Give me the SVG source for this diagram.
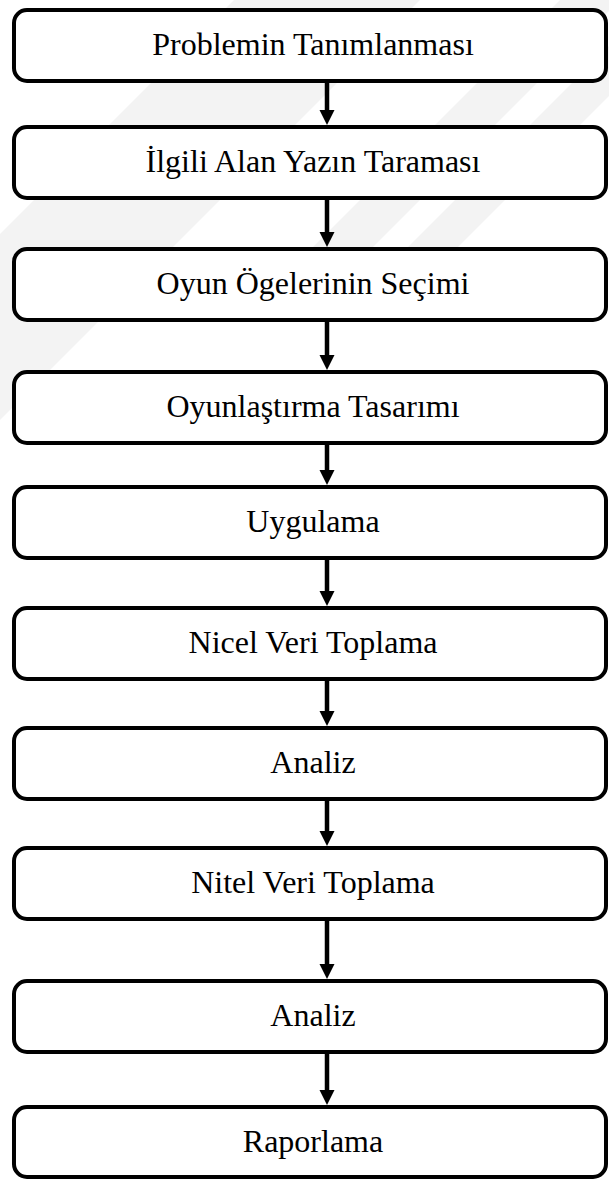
<svg xmlns="http://www.w3.org/2000/svg" width="609" height="1181" viewBox="0 0 609 1181">
<style>
.box{fill:#ffffff;stroke:#000000;stroke-width:4}
.lbl{font-family:"Liberation Serif","Times New Roman",serif;font-size:32px;fill:#000000;text-anchor:middle}
.wm{fill:#f3f3f3}
.shaft{stroke:#000000;stroke-width:4.5;fill:none}
.head{fill:#000000}
</style>
<rect width="609" height="1181" fill="#ffffff"/>
<g id="watermark">
<polygon class="wm" points="234,0 420,0 0,420 0,234"/>
<polygon class="wm" points="560,0 620,0 370,250 310,250"/>
<polygon class="wm" points="655,0 705,0 455,250 405,250"/>
</g>
<g id="n1"><rect class="box" x="14" y="10" width="592" height="71" rx="13"/><text class="lbl" x="313" y="55">Problemin Tanımlanması</text></g>
<g id="n2"><rect class="box" x="14" y="127" width="592" height="71" rx="13"/><text class="lbl" x="313" y="172">İlgili Alan Yazın Taraması</text></g>
<g id="n3"><rect class="box" x="14" y="249" width="592" height="71" rx="13"/><text class="lbl" x="313" y="294">Oyun Ögelerinin Seçimi</text></g>
<g id="n4"><rect class="box" x="14" y="372" width="592" height="71" rx="13"/><text class="lbl" x="313" y="417">Oyunlaştırma Tasarımı</text></g>
<g id="n5"><rect class="box" x="14" y="487" width="592" height="71" rx="13"/><text class="lbl" x="313" y="532">Uygulama</text></g>
<g id="n6"><rect class="box" x="14" y="608" width="592" height="71" rx="13"/><text class="lbl" x="313" y="653">Nicel Veri Toplama</text></g>
<g id="n7"><rect class="box" x="14" y="728" width="592" height="71" rx="13"/><text class="lbl" x="313" y="773">Analiz</text></g>
<g id="n8"><rect class="box" x="14" y="848" width="592" height="71" rx="13"/><text class="lbl" x="313" y="893">Nitel Veri Toplama</text></g>
<g id="n9"><rect class="box" x="14" y="981" width="592" height="71" rx="13"/><text class="lbl" x="313" y="1026">Analiz</text></g>
<g id="n10"><rect class="box" x="14" y="1107" width="592" height="70" rx="13"/><text class="lbl" x="313" y="1152">Raporlama</text></g>
<g id="connectors">
<path class="shaft" d="M327,83V112 M327,200V234 M327,322V357 M327,445V472 M327,560V593 M327,681V713 M327,801V833 M327,921V966 M327,1054V1092"/>
<polygon class="head" points="319.5,110 334.5,110 327,125"/>
<polygon class="head" points="319.5,232 334.5,232 327,247"/>
<polygon class="head" points="319.5,355 334.5,355 327,370"/>
<polygon class="head" points="319.5,470 334.5,470 327,485"/>
<polygon class="head" points="319.5,591 334.5,591 327,606"/>
<polygon class="head" points="319.5,711 334.5,711 327,726"/>
<polygon class="head" points="319.5,831 334.5,831 327,846"/>
<polygon class="head" points="319.5,964 334.5,964 327,979"/>
<polygon class="head" points="319.5,1090 334.5,1090 327,1105"/>
</g>
</svg>
